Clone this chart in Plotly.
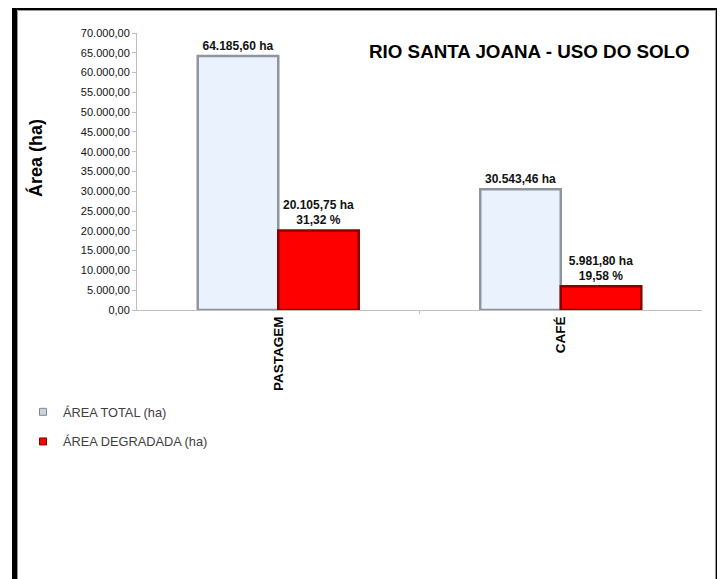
import plotly.graph_objects as go

categories = ["PASTAGEM", "CAFÉ"]
area_total = [64185.60, 30543.46]
area_degradada = [20105.75, 5981.80]
pct_degradada = [31.32, 19.58]
tick_values = list(range(0, 70001, 5000))

def br(v, d=2):
    s = f"{v:,.{d}f}"
    return s.replace(",", "X").replace(".", ",").replace("X", ".")

tick_text = [br(v) for v in tick_values]
total_labels = [f"<b>{br(v)} ha</b>" for v in area_total]
deg_labels = [f"<b>{br(v)} ha<br>{br(p)} %</b>" for v, p in zip(area_degradada, pct_degradada)]

FONT = "Liberation Sans, Arial, sans-serif"
TOTAL_COLOR = "#EAF2FD"
TOTAL_LINE = "#8E959E"
DEG_COLOR = "#FF0000"
DEG_LINE = "#8A0000"

W, H = 725, 579
L, R, T, B = 129, 31, 25, 277
pw, ph = W - L - R, H - T - B

def px(x):
    return (x - L) / pw

def py(y):
    return (H - B - y) / ph

fig = go.Figure()
fig.add_trace(go.Bar(
    x=categories, y=area_total, name="ÁREA TOTAL (ha)",
    marker=dict(color=TOTAL_COLOR, line=dict(color=TOTAL_LINE, width=2.5)),
    text=total_labels, textposition="outside", cliponaxis=False,
    textfont=dict(family=FONT, size=12, color="#111111"),
    showlegend=False,
))
fig.add_trace(go.Bar(
    x=categories, y=area_degradada, name="ÁREA DEGRADADA (ha)",
    marker=dict(color=DEG_COLOR, line=dict(color=DEG_LINE, width=2.5)),
    text=deg_labels, textposition="outside", cliponaxis=False,
    textfont=dict(family=FONT, size=12, color="#111111"),
    showlegend=False,
))
# legend entries (small square swatches as in the original)
fig.add_trace(go.Scatter(
    x=[None], y=[None], mode="markers", name="ÁREA TOTAL (ha)",
    marker=dict(symbol="square", size=7, color="#C9D3DE", line=dict(color="#7E8791", width=1)),
    legendgroup="a",
))
fig.add_trace(go.Scatter(
    x=[None], y=[None], mode="markers", name="ÁREA DEGRADADA (ha)",
    marker=dict(symbol="square", size=7, color=DEG_COLOR, line=dict(color=DEG_LINE, width=1)),
    legendgroup="b",
))

shapes = [
    dict(type="rect", xref="paper", yref="paper",
         x0=px(6.5), x1=px(710.5), y0=py(-0.5), y1=py(620),
         line=dict(color="#000000", width=5), fillcolor="rgba(0,0,0,0)", layer="below"),
    dict(type="rect", xref="paper", yref="paper",
         x0=px(9.5), x1=px(707.5), y0=py(2.5), y1=py(620),
         line=dict(color="#9A9A9A", width=1), fillcolor="rgba(0,0,0,0)", layer="below"),
    dict(type="line", xref="paper", yref="paper",
         x0=0.5, x1=0.5, y0=0, y1=py(H - B + 4), line=dict(color="#BFBFBF", width=1)),
]

fig.update_layout(
    width=W, height=H,
    margin=dict(l=L, r=R, t=T, b=B, autoexpand=False),
    paper_bgcolor="white", plot_bgcolor="white",
    barmode="group", bargap=0.43, bargroupgap=0,
    font=dict(family=FONT, color="#111111"),
    showlegend=True,
    legend=dict(x=px(15), y=py(389), xanchor="left", yanchor="top",
                font=dict(family=FONT, size=12.8, color="#404040"),
                tracegroupgap=10, itemwidth=30, bgcolor="rgba(0,0,0,0)"),
    shapes=shapes,
    annotations=[
        dict(text="<b>RIO SANTA JOANA - USO DO SOLO</b>", xref="paper", yref="paper",
             x=px(684), y=py(44), xanchor="right", yanchor="middle", showarrow=False,
             font=dict(family=FONT, size=18.8, color="#000000")),
        dict(text="<b>Área (ha)</b>", xref="paper", yref="paper",
             x=px(27), y=py(150), xanchor="center", yanchor="middle", showarrow=False,
             textangle=-90, font=dict(family=FONT, size=18, color="#000000")),
    ],
)
fig.update_yaxes(range=[0, 70000], tickvals=tick_values, ticktext=tick_text,
                 showgrid=False, showline=True, linecolor="#BFBFBF", linewidth=1,
                 ticks="outside", ticklen=4, tickcolor="#BFBFBF",
                 tickfont=dict(family=FONT, size=11, color="#111111"), zeroline=False)
fig.update_xaxes(showline=True, linecolor="#BFBFBF", linewidth=1,
                 tickangle=-90, ticks="",
                 tickfont=dict(family=FONT, size=13.5, color="#000000"),
                 tickvals=categories, ticktext=[f"<b>{c}</b>" for c in categories])

fig.write_html("out.html")
